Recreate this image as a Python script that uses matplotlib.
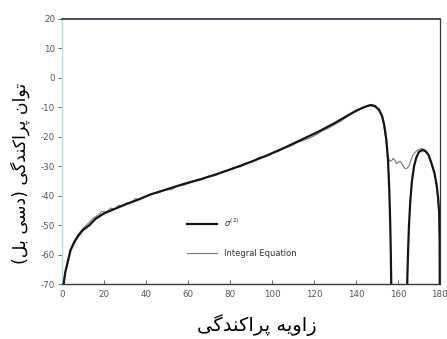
import numpy as np
import matplotlib
matplotlib.use("Agg")
import matplotlib.pyplot as plt

## === Data === ##

# sigma(2) curve: angle (deg), power (dB)
sigma_angle = [0.3, 1.5, 3, 4, 6, 8, 10, 13, 16, 20, 25, 30, 36, 42, 50, 58, 66, 74, 82, 90,
               98, 106, 114, 122, 130, 136, 140, 144, 147, 149, 151, 152.5, 153.5, 154.5,
               155.3, 155.9, 156.3, 156.6, 156.8, 156.9,
               164.3, 164.5, 164.9, 165.3, 165.9, 166.7, 167.7, 168.8, 170, 171.5, 173,
               174.5, 176, 177.5, 178.5, 179.2, 179.7, 179.9, 180]
sigma_db = [-72, -66, -61.5, -58.5, -55.5, -53.3, -51.6, -50, -47.8, -46, -44.5, -43, -41.4,
            -39.6, -37.8, -36, -34.4, -32.6, -30.6, -28.5, -26.2, -23.7, -21, -18.3, -15.3,
            -12.8, -11.2, -9.9, -9.2, -9.5, -10.8, -13, -16, -21, -28, -38, -48, -58, -68, -80,
            -80, -68, -58, -50, -42, -35, -30, -27, -25.2, -24.5, -24.8, -26, -29, -32.5,
            -36.5, -41, -46, -55, -80]

# integral equation curve
ie_angle = [0.3, 1.5, 3, 4, 6, 8, 10, 13, 15, 17, 19, 21, 23, 25, 27, 29, 31, 33, 35, 37,
            40, 43, 46, 49, 52, 55, 58, 61, 64, 67, 70, 73, 76, 79, 82, 85, 88, 91, 94, 97,
            100, 103, 106, 109, 112, 115, 118, 121, 124, 127, 130, 133, 136, 139, 142, 145,
            147, 149, 150.5, 152, 153, 154, 155, 155.5, 156.3, 157.1, 157.8, 158.6, 159.4,
            160.2, 161, 161.8, 162.7, 163.5, 164.5, 165.5, 166.3, 167.2, 168.3, 169.5, 171,
            172.5, 174, 175.5, 177, 178.2, 179, 179.6, 179.9, 180]
ie_db = [-72, -65.5, -61, -58, -55, -52.8, -51, -49, -47.5, -46.8, -45.3, -45.6, -44.2,
         -44.6, -43.2, -43.5, -42.4, -42.2, -41.0, -41.3, -40.2, -39.3, -39.0, -37.9, -38.0,
         -36.6, -36.4, -35.6, -35.0, -34.5, -33.3, -33.2, -32.0, -31.4, -30.5, -30.2, -28.8,
         -28.4, -27.0, -26.7, -25.6, -25.0, -23.8, -23.1, -22.0, -21.2, -20.4, -19.3, -18.0,
         -17.0, -15.8, -14.6, -13.0, -11.8, -10.6, -9.6, -9.4, -9.9, -10.5, -12.5, -15, -19.5,
         -25, -27.3, -28.3, -28.0, -27.3, -28.0, -29.2, -28.6, -28.3, -29.0, -30.2, -30.8,
         -30.6, -29.6, -27.8, -26.2, -25.2, -24.5, -24.0, -24.2, -25.3, -27.5, -31, -35.5,
         -40.5, -47, -57, -80]

x_ticks = [0, 20, 40, 60, 80, 100, 120, 140, 160, 180]
y_ticks = [20, 10, 0, -10, -20, -30, -40, -50, -60, -70]

legend_labels = [r"$\sigma^{(2)}$", "Integral Equation"]
x_label = "زاویه پراکندگی"
y_label = "توان پراکندگی (دسی بل)"


## === Persian shaping (matplotlib has no bidi / joining) === ##

# letter: (isolated, final, initial, medial)
forms = {
    "ت": "\uFE95\uFE96\uFE97\uFE98",
    "ن": "\uFEE5\uFEE6\uFEE7\uFEE8",
    "پ": "\uFB56\uFB57\uFB58\uFB59",
    "ک": "\uFB8E\uFB8F\uFB90\uFB91",
    "گ": "\uFB92\uFB93\uFB94\uFB95",
    "ی": "\uFBFC\uFBFD\uFBFE\uFBFF",
    "س": "\uFEB1\uFEB2\uFEB3\uFEB4",
    "ب": "\uFE8F\uFE90\uFE91\uFE92",
    "ه": "\uFEE9\uFEEA\uFEEB\uFEEC",
    "ل": "\uFEDD\uFEDE\uFEDF\uFEE0",
    "ا": "\uFE8D\uFE8E",
    "و": "\uFEED\uFEEE",
    "د": "\uFEA9\uFEAA",
    "ر": "\uFEAD\uFEAE",
    "ز": "\uFEAF\uFEB0",
}

def shape(text):
    out = []
    for i, ch in enumerate(text):
        if ch not in forms:
            out.append({"(": ")", ")": "("}.get(ch, ch))
            continue
        prev = text[i - 1] if i > 0 else ""
        nxt = text[i + 1] if i + 1 < len(text) else ""
        join_prev = prev in forms and len(forms[prev]) == 4
        join_next = len(forms[ch]) == 4 and nxt in forms
        f = forms[ch]
        if join_prev and join_next:
            out.append(f[3])
        elif join_prev:
            out.append(f[1])
        elif join_next:
            out.append(f[2])
        else:
            out.append(f[0])
    return "".join(reversed(out))


## === Plot === ##

plt.rcParams["axes.unicode_minus"] = False
plt.rcParams["font.family"] = ["DejaVu Sans"]

fig = plt.figure(figsize=(4.47, 3.39), dpi=100)
ax = fig.add_axes([0.139, 0.162, 0.845, 0.782])

ax.plot(ie_angle, ie_db, color="#7a7a7a", lw=0.8, label=legend_labels[1], zorder=2)
ax.plot(sigma_angle, sigma_db, color="#151515", lw=1.6, label=legend_labels[0], zorder=3)

ax.set_xlim(0, 180)
ax.set_ylim(-70, 20)
ax.set_xticks(x_ticks)
ax.set_yticks(y_ticks)
ax.tick_params(axis="both", labelsize=6.3, colors="#6a6a6a", labelcolor="#555555")
ax.tick_params(axis="x", direction="in", length=3, width=0.7, pad=4)
ax.tick_params(axis="y", direction="out", length=3, width=0.7, pad=2)

ax.spines["left"].set_color("#bcd4ea")
ax.spines["left"].set_linewidth(1.0)
ax.spines["top"].set_color("#3a3f55")
ax.spines["top"].set_linewidth(1.3)
ax.spines["right"].set_color("#333333")
ax.spines["right"].set_linewidth(0.9)
ax.spines["bottom"].set_color("#3a3a3a")
ax.spines["bottom"].set_linewidth(1.0)

handles, labels = ax.get_legend_handles_labels()
ax.legend(handles[::-1], labels[::-1], loc="upper left", bbox_to_anchor=(0.312, 0.284),
          frameon=False, fontsize=6, handlelength=3.6, labelspacing=2.4,
          handletextpad=0.8, labelcolor="#333333")

fig.text(0.575, 0.04, shape(x_label), ha="center", va="center", fontsize=14)
fig.text(0.045, 0.49, shape(y_label), ha="center", va="center", fontsize=12.5, rotation=90)

fig.savefig("out.png", dpi=100)
